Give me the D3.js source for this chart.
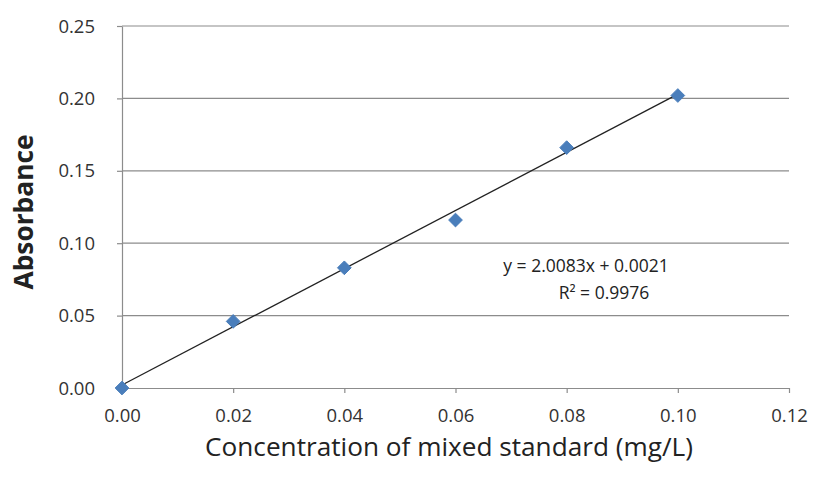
<!DOCTYPE html>
<html><head><meta charset="utf-8">
<script src="https://cdn.jsdelivr.net/npm/d3@7"></script>
<style>body{margin:0;background:#fff}svg{display:block}</style>
</head><body><svg id="c" width="816" height="479"></svg>
<script>
const concentrations = [0.00, 0.02, 0.04, 0.06, 0.08, 0.10];
const absorbances = [0.000, 0.046, 0.083, 0.116, 0.166, 0.202];
const xTicks = [0.00, 0.02, 0.04, 0.06, 0.08, 0.10, 0.12];
const yTicks = [0.00, 0.05, 0.10, 0.15, 0.20, 0.25];
const slope = 2.0083, intercept = 0.0021;
const eqLines = ["y = 2.0083x + 0.0021", "R² = 0.9976"];

const svg = d3.select("#c");
const x = d3.scaleLinear().domain([0, 0.12]).range([122, 789]);
const y = d3.scaleLinear().domain([0, 0.25]).range([388, 26]);
const font = "'Open Sans', 'DejaVu Sans', sans-serif";

function fit(sel, w) {
  const n = sel.node();
  const fs = parseFloat(sel.attr("font-size"));
  const l = n.getComputedTextLength();
  if (l > 0) sel.attr("font-size", fs * w / l);
}

// gridlines
svg.append("g").selectAll("line").data(yTicks.slice(1)).join("line")
  .attr("x1", x(0)).attr("x2", x(0.12)).attr("y1", d => y(d)).attr("y2", d => y(d))
  .attr("stroke", "#8c8c8c").attr("stroke-width", 1.2);

const xa = svg.append("g").attr("transform", `translate(0,${y(0)})`)
  .call(d3.axisBottom(x).tickValues(xTicks).tickFormat(d3.format(".2f")).tickSize(5).tickSizeOuter(0).tickPadding(14));
const ya = svg.append("g").attr("transform", `translate(${x(0)},0)`)
  .call(d3.axisLeft(y).tickValues(yTicks).tickFormat(d3.format(".2f")).tickSize(5).tickSizeOuter(0).tickPadding(22));
[xa, ya].forEach(a => {
  a.select(".domain").attr("stroke", "#8c8c8c").attr("stroke-width", 1.2);
  a.selectAll(".tick line").attr("stroke", "#8c8c8c").attr("stroke-width", 1.2);
  a.selectAll("text").attr("font-family", font).attr("font-size", 18.5).attr("fill", "#333");
});
xa.selectAll(".tick text").attr("dy", "0.8em");
ya.selectAll(".tick text").attr("dy", "0.33em");

// trendline
svg.append("line")
  .attr("x1", x(0)).attr("y1", y(intercept)).attr("x2", x(0.10)).attr("y2", y(slope*0.10+intercept))
  .attr("stroke", "#222").attr("stroke-width", 1.3);

// markers
const sym = d3.symbol().type(d3.symbolDiamond2).size(120);
svg.append("g").selectAll("path").data(concentrations).join("path")
  .attr("d", sym)
  .attr("transform", (d, i) => `translate(${x(d)},${y(absorbances[i])})`)
  .attr("fill", "#4a7ebb").attr("stroke", "#4a7ebb").attr("stroke-width", 1);

// equation
svg.append("text").attr("x", 586).attr("y", 272).attr("text-anchor", "middle")
  .attr("font-family", font).attr("font-size", 17.5).attr("fill", "#222").text(eqLines[0]);
svg.append("text").attr("x", 604).attr("y", 299).attr("text-anchor", "middle")
  .attr("font-family", font).attr("font-size", 17.5).attr("fill", "#222").text(eqLines[1]);

// axis titles
const xt = svg.append("text").attr("x", 449).attr("y", 456).attr("text-anchor", "middle")
  .attr("font-family", font).attr("font-size", 26).attr("fill", "#222")
  .text("Concentration of mixed standard (mg/L)");
fit(xt, 488);
const yt = svg.append("text").attr("transform", "translate(33,212) rotate(-90)").attr("text-anchor", "middle")
  .attr("font-family", font).attr("font-size", 24).attr("font-weight", "bold").attr("fill", "#222")
  .text("Absorbance");
fit(yt, 155);
</script></body></html>
